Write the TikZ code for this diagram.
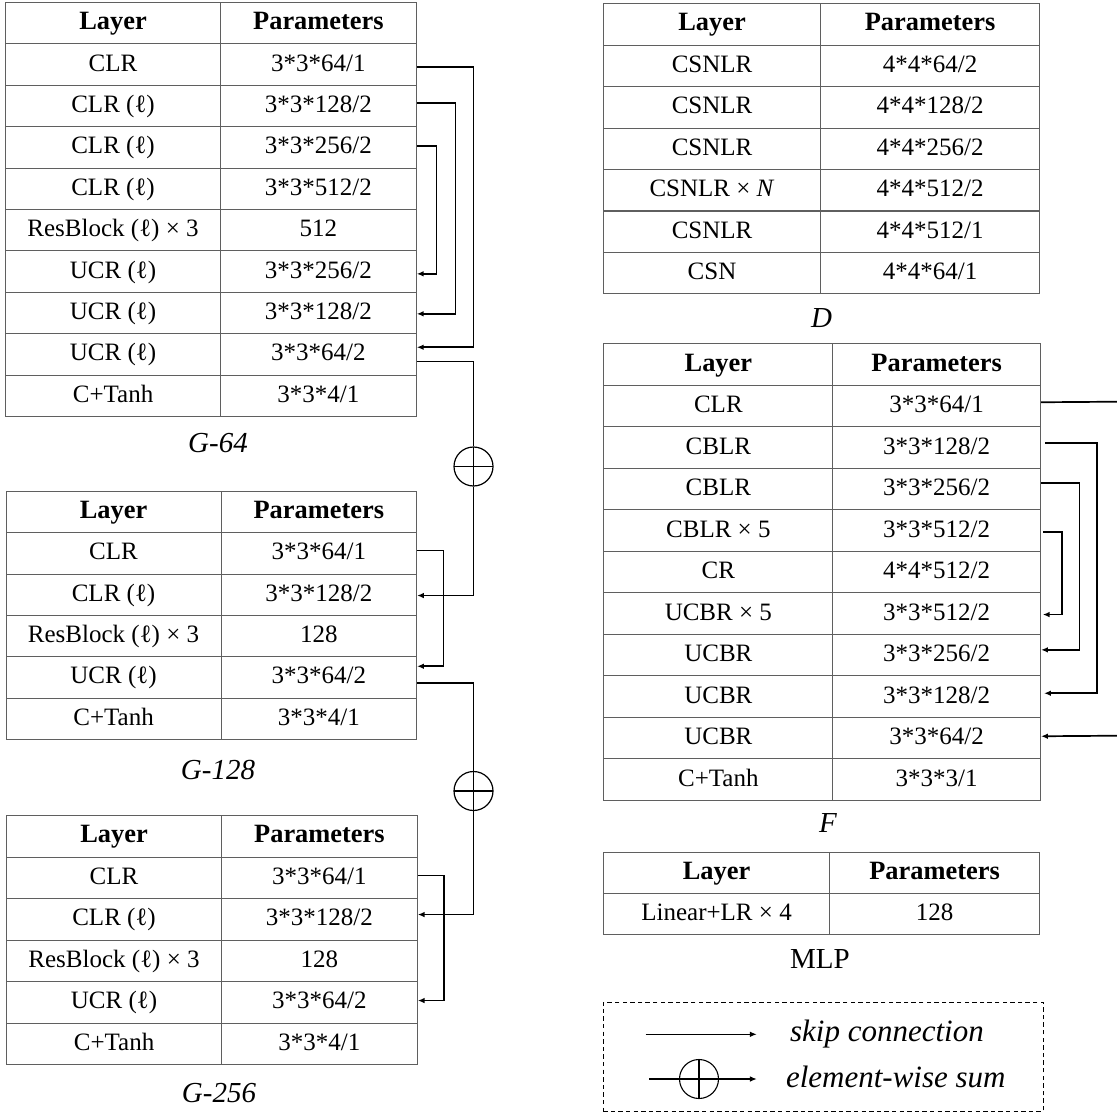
\documentclass[tikz,border=0pt]{standalone}
\usepackage{fontspec}
\setmainfont{Liberation Serif}
\usetikzlibrary{calc,arrows.meta}

\definecolor{rulegray}{RGB}{95,95,95}

\tikzset{
  cell/.style={draw=rulegray, line width=0.55pt, inner sep=0pt, anchor=north west,
    text height=8.9pt, text depth=2.5pt, font=\fontsize{12.5}{15}\selectfont},
  wire/.style={draw, line width=0.85pt},
  skip/.style={wire, -{Latex[length=3.4pt,width=2.8pt]}},
  thinwire/.style={draw, line width=0.55pt},
  thinskip/.style={thinwire, -{Latex[length=3.4pt,width=2.8pt]}},
  caption/.style={font=\fontsize{14.5}{17}\selectfont\itshape},
  legendtext/.style={anchor=base west, font=\fontsize{15.5}{18}\selectfont\itshape},
  sumnode/.style={circle, draw, line width=0.6pt, minimum size=19.5pt, inner sep=0pt,
    path picture={\draw[line width=0.6pt]
      (path picture bounding box.north) -- (path picture bounding box.south)
      (path picture bounding box.west) -- (path picture bounding box.east);}},
}

\newcommand\hd[1]{{\fontsize{13.2}{15}\selectfont\bfseries #1}}

% name, left x, top y, first column width, second column width, row height, rows
\newcommand\layertable[7]{%
  \foreach [count=\i] \a/\b in {#7}{
    \node[cell, minimum width=#4*0.5pt, minimum height=#6*0.5pt]
      (#1-\i-1) at (#2,{#3+(\i-1)*#6}) {\a};
    \node[cell, minimum width=#5*0.5pt, minimum height=#6*0.5pt]
      (#1-\i-2) at ({#2+#4},{#3+(\i-1)*#6}) {\b};
  }}

\begin{document}
\begin{tikzpicture}[x=0.5pt, y=-0.5pt]
\useasboundingbox (0,0) rectangle (1117,1112);

% ---------------- generator G-64 ----------------
\layertable{g64}{5}{2}{215}{195.7}{41.4}{
  {\hd{Layer}}/{\hd{Parameters}},
  {CLR}/{3*3*64/1},
  {CLR (ℓ)}/{3*3*128/2},
  {CLR (ℓ)}/{3*3*256/2},
  {CLR (ℓ)}/{3*3*512/2},
  {ResBlock (ℓ) × 3}/{512},
  {UCR (ℓ)}/{3*3*256/2},
  {UCR (ℓ)}/{3*3*128/2},
  {UCR (ℓ)}/{3*3*64/2},
  {C+Tanh}/{3*3*4/1}}
\node[caption] (cap-g64) at (218,443) {G-64};

% ---------------- generator G-128 ----------------
\layertable{g128}{5.5}{490.7}{215}{195.5}{41.4}{
  {\hd{Layer}}/{\hd{Parameters}},
  {CLR}/{3*3*64/1},
  {CLR (ℓ)}/{3*3*128/2},
  {ResBlock (ℓ) × 3}/{128},
  {UCR (ℓ)}/{3*3*64/2},
  {C+Tanh}/{3*3*4/1}}
\node[caption] (cap-g128) at (218,770) {G-128};

% ---------------- generator G-256 ----------------
\layertable{g256}{6}{815}{215}{195.7}{41.5}{
  {\hd{Layer}}/{\hd{Parameters}},
  {CLR}/{3*3*64/1},
  {CLR (ℓ)}/{3*3*128/2},
  {ResBlock (ℓ) × 3}/{128},
  {UCR (ℓ)}/{3*3*64/2},
  {C+Tanh}/{3*3*4/1}}
\node[caption] (cap-g256) at (219,1093) {G-256};

% ---------------- discriminator D ----------------
\layertable{d}{602.7}{3.3}{217.6}{218.4}{41.43}{
  {\hd{Layer}}/{\hd{Parameters}},
  {CSNLR}/{4*4*64/2},
  {CSNLR}/{4*4*128/2},
  {CSNLR}/{4*4*256/2},
  {CSNLR × \textit{N}}/{4*4*512/2},
  {CSNLR}/{4*4*512/1},
  {CSN}/{4*4*64/1}}
\node[caption] (cap-d) at (821.7,318) {D};

% ---------------- network F ----------------
\layertable{f}{603.3}{343.3}{229}{207.7}{41.5}{
  {\hd{Layer}}/{\hd{Parameters}},
  {CLR}/{3*3*64/1},
  {CBLR}/{3*3*128/2},
  {CBLR}/{3*3*256/2},
  {CBLR × 5}/{3*3*512/2},
  {CR}/{4*4*512/2},
  {UCBR × 5}/{3*3*512/2},
  {UCBR}/{3*3*256/2},
  {UCBR}/{3*3*128/2},
  {UCBR}/{3*3*64/2},
  {C+Tanh}/{3*3*3/1}}
\node[caption] (cap-f) at (828,823) {F};

% ---------------- MLP ----------------
\layertable{mlp}{602.7}{851.7}{226.6}{209.4}{41.2}{
  {\hd{Layer}}/{\hd{Parameters}},
  {Linear+LR × 4}/{128}}
\node[caption, font=\fontsize{14.5}{17}\selectfont\upshape] (cap-mlp) at (820,959) {MLP};

% ---------------- skip connections of G-64 ----------------
\draw[skip] ($(g64-2-2.east)+(0,2.6)$) -- ++(56.6,0) |- ($(g64-9-2.east)+(0,-7.2)$);
\draw[skip] ($(g64-3-2.east)+(0,-2.8)$) -- ++(38.6,0) |- ($(g64-8-2.east)+(0,0.8)$);
\draw[skip] ($(g64-4-2.east)+(0,-1.2)$) -- ++(19.6,0) |- ($(g64-7-2.east)+(0,2.2)$);

% ---------------- element-wise sums between the generators ----------------
\node[sumnode] (s1) at (473.5,466.5) {};
\node[sumnode] (s2) at (473.5,791) {};
\draw[wire] ($(g64-9-2.east)+(0,7.1)$) -| (s1.north);
\draw[skip] (s1.south) |- ($(g128-3-2.east)+(0,0.8)$);
\draw[wire] ($(g128-5-2.east)+(0,5.3)$) -| (s2.north);
\draw[skip] (s2.south) |- ($(g256-3-2.east)+(0,-4.75)$);

% ---------------- skip connections of G-128 and G-256 ----------------
\draw[skip] ($(g128-2-2.east)+(0,-2.8)$) -- ++(26.3,0) |- ($(g128-5-2.east)+(0,-11.3)$);
\draw[skip] ($(g256-2-2.east)+(0,-2.25)$) -- ++(26,0) |- ($(g256-5-2.east)+(0,-1.75)$);

% ---------------- skip connections of F ----------------
\coordinate (f-out) at (1117,401.7);
\coordinate (f-in) at (1117,735.7);
\draw[wire] ($(f-2-2.east)+(0,-3.85)$) -- (f-out);
\draw[skip] (f-in) -- ($(f-10-2.east)+(0,-1.85)$);
\draw[skip] ($(f-3-2.east)+(4,-4.35)$) -- ++(51.7,0) |- ($(f-9-2.east)+(3,-3.35)$);
\draw[skip] ($(f-4-2.east)+(0,-5.85)$) -- ++(38.3,0) |- ($(f-8-2.east)+(0,-5.25)$);
\draw[skip] ($(f-5-2.east)+(2.3,1.65)$) -- ++(18.4,0) |- ($(f-7-2.east)+(1.7,0.95)$);

% ---------------- legend ----------------
\node[draw, line width=0.55pt, dash pattern=on 2.2pt off 1.6pt, inner sep=0pt,
      anchor=north west, minimum width=440*0.5pt, minimum height=109*0.5pt]
      (legend) at (602.7,1001.7) {};
\coordinate (l1a) at (645.7,1034.3);
\coordinate (l1b) at (756.7,1034.3);
\draw[thinskip] (l1a) -- (l1b);
\node[legendtext] (l1t) at (783,1041.7) {skip connection};
\node[sumnode, line width=0.55pt] (ls) at (699,1079) {};
\coordinate (l2a) at (649,1079);
\coordinate (l2b) at (756.7,1079);
\draw[thinwire] (l2a) -- (ls.west);
\draw[thinskip] (ls.east) -- (l2b);
\node[legendtext] (l2t) at (779,1087.3) {element-wise sum};
\end{tikzpicture}
\end{document}
